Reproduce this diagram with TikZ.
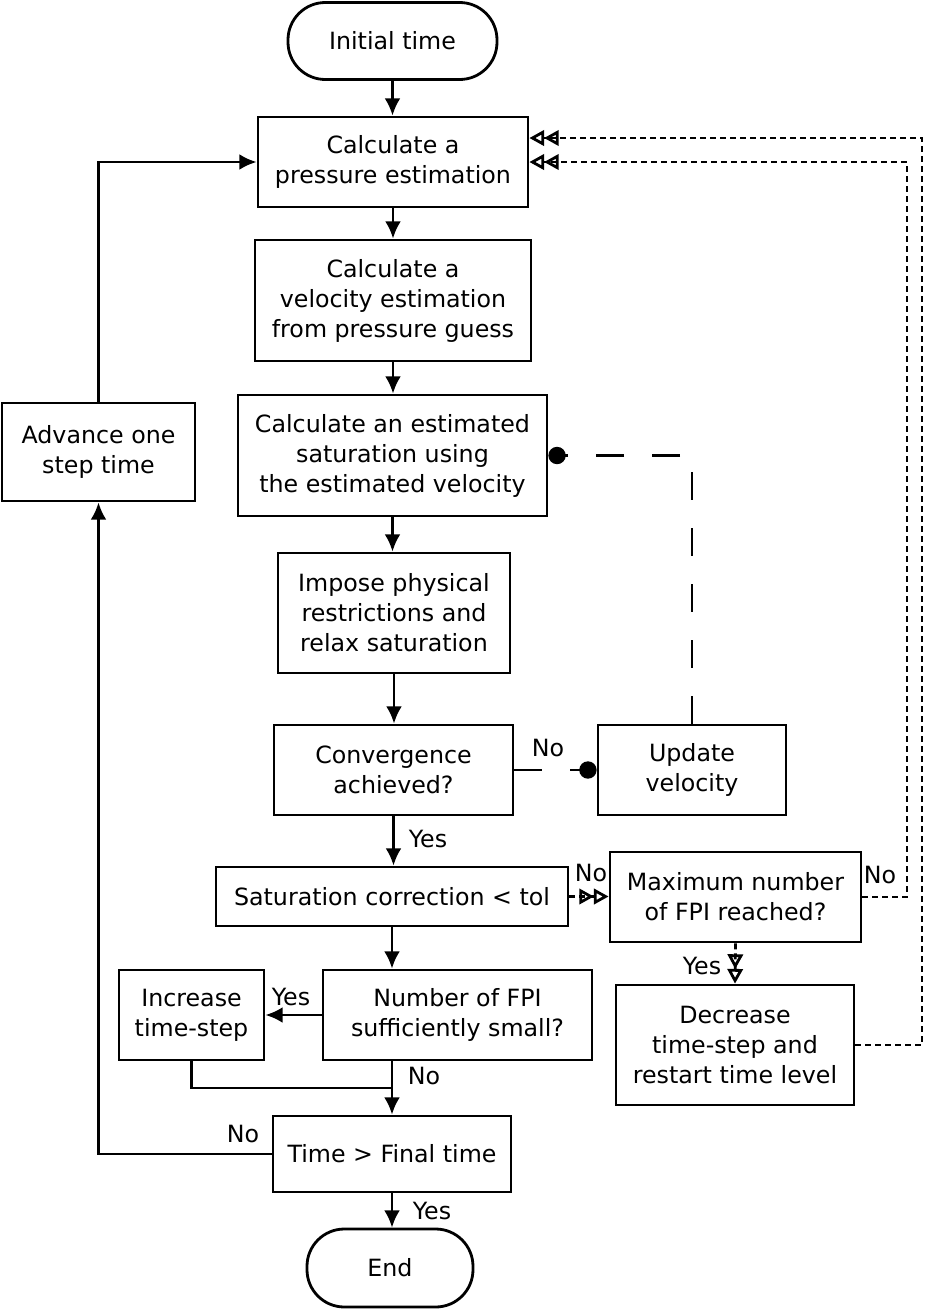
\documentclass[tikz,border=0pt]{standalone}
\usepackage{fontspec}
\setmainfont{DejaVu Sans}
\usetikzlibrary{arrows.meta,calc}
\begin{document}
\begin{tikzpicture}[x=0.75pt,y=-0.75pt, line width=2.1pt,
  font=\fontsize{17.8}{22.5}\selectfont,
  box/.style={draw, rectangle, align=center, inner sep=0pt, fill=white},
  term/.style={box, rounded corners=28pt},
  arr/.style={-{Latex[length=13pt,width=12pt]}},
  fpi/.style={dash pattern=on 4.5pt off 3pt, -{Triangle[open,length=11pt,width=11.5pt]Triangle[open,length=11pt,width=11.5pt]}},
  velo/.style={dash pattern=on 21pt off 21pt, -{Circle[length=13pt]}},
  lab/.style={inner sep=0pt}]
\useasboundingbox (0,0) rectangle (925,1311);

\node[term, minimum width=156.75pt, minimum height=57.75pt] (init) at (392.5,41) {Initial time};
\node[box, minimum width=202.5pt, minimum height=67.5pt] (press) at (393,162) {Calculate a\\pressure estimation};
\node[box, minimum width=207pt, minimum height=90.75pt] (vel) at (393,300.5) {Calculate a\\velocity estimation\\from pressure guess};
\node[box, minimum width=231.75pt, minimum height=90.75pt] (sat) at (392.5,455.5) {Calculate an estimated\\saturation using\\the estimated velocity};
\node[box, minimum width=174pt, minimum height=90pt] (imp) at (394,613) {Impose physical\\restrictions and\\relax saturation};
\node[box, minimum width=179.25pt, minimum height=67.5pt] (conv) at (393.5,770) {Convergence\\achieved?};
\node[box, minimum width=141pt, minimum height=67.5pt] (upd) at (692,770) {Update\\velocity};
\node[box, minimum width=264pt, minimum height=44.25pt] (corr) at (392,896.5) {Saturation correction < tol};
\node[box, minimum width=188.25pt, minimum height=67.5pt] (maxn) at (735.5,897) {Maximum number\\of FPI reached?};
\node[box, minimum width=178.5pt, minimum height=90pt] (dec) at (735,1045) {Decrease\\time-step and\\restart time level};
\node[box, minimum width=201.75pt, minimum height=67.5pt] (nfpi) at (457.5,1015) {Number of FPI\\sufficiently small?};
\node[box, minimum width=108.75pt, minimum height=67.5pt] (inc) at (191.5,1015) {Increase\\time-step};
\node[box, minimum width=178.5pt, minimum height=57pt] (tfin) at (392,1154) {Time > Final time};
\node[term, minimum width=124.5pt, minimum height=58.5pt] (endn) at (390,1268) {End};
\node[box, minimum width=144.75pt, minimum height=73.5pt] (adv) at (98.5,452) {Advance one\\step time};

\coordinate (jy) at (0,1088);
\coordinate (j) at (tfin.north |- jy);
\coordinate (r1) at (907,0);
\coordinate (r2) at (922,0);

\draw[arr] (init.south) -- (init.south |- press.north);
\draw[arr] (press.south) -- (press.south |- vel.north);
\draw[arr] (vel.south) -- (vel.south |- sat.north);
\draw[arr] (sat.south) -- (sat.south |- imp.north);
\draw[arr] (imp.south) -- (imp.south |- conv.north);
\draw[arr] (conv.south) -- (conv.south |- corr.north);
\draw[arr] (corr.south) -- (corr.south |- nfpi.north);
\draw[arr] (nfpi.west) -- (inc.east);
\draw[arr] (tfin.north |- nfpi.south) -- (tfin.north);
\draw (inc.south) |- (j);
\draw[arr] (tfin.west) -| (adv.south);
\draw[arr] (adv.north) |- (press.west);
\draw[arr] (tfin.south) -- (tfin.south |- endn.north);

\draw[velo] (conv.east) -- (upd.west);
\draw[velo] (upd.north) |- (sat.east);

\draw[fpi] (corr.east) -- (corr.east -| maxn.west);
\draw[fpi] (maxn.south) -- (dec.north);
\draw[fpi] (maxn.east) -| (r1 |- press.east) -- (press.east);
\draw[fpi] (dec.east) -| ($(r2 |- press.east)+(0,-24)$) -- ($(press.east)+(0,-24)$);

\node[lab] (l1) at (548,748) {No};
\node[lab] (l2) at (428,839) {Yes};
\node[lab] (l3) at (591,873) {No};
\node[lab] (l4) at (880,875) {No};
\node[lab] (l5) at (702,966) {Yes};
\node[lab] (l6) at (291,997) {Yes};
\node[lab] (l7) at (424,1076) {No};
\node[lab] (l8) at (243,1134) {No};
\node[lab] (l9) at (432,1211) {Yes};
\end{tikzpicture}
\end{document}
